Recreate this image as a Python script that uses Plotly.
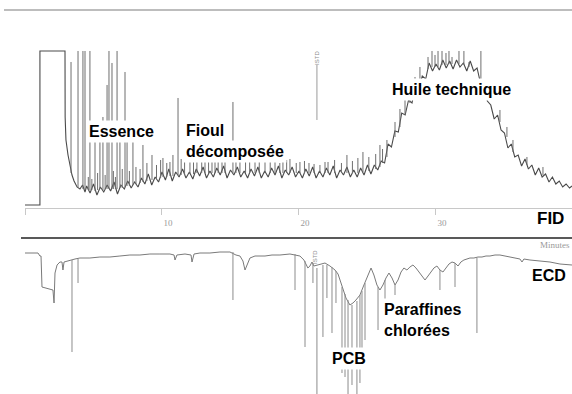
import plotly.graph_objects as go

# ---------------- DATA ----------------
# FID continuous trace: time (min) and signal (arbitrary units, off-scale = 156)
fid_time = [0, 0.95, 1.09, 1.09, 2.92, 2.93, 2.99, 3.14, 3.28, 3.43, 3.58, 3.80, 4.01, 4.20, 4.38,
            4.50, 4.75, 5.00, 5.25, 5.50, 5.75, 6.00, 6.25, 6.50, 6.75, 7.00, 7.25, 7.50, 7.75,
            8.00, 8.25, 8.50, 8.75, 9.00, 9.25, 9.50, 9.75, 10.00, 10.25, 10.50, 10.75, 11.00,
            11.25, 11.50, 11.75, 12.00, 12.25, 12.50, 12.75, 13.00, 13.25, 13.50, 13.75, 14.00,
            14.25, 14.50, 14.75, 15.00, 15.25, 15.50, 15.75, 16.00, 16.25, 16.50, 16.75, 17.00,
            17.25, 17.50, 17.75, 18.00, 18.25, 18.50, 18.75, 19.00, 19.25, 19.50, 19.75, 20.00,
            20.25, 20.50, 20.75, 21.00, 21.25, 21.50, 21.75, 22.00, 22.25, 22.50, 22.75, 23.00,
            23.25, 23.50, 23.75, 24.00, 24.25, 24.50, 24.75, 25.00, 25.25,
            25.50, 25.75, 26.00, 26.25, 26.50, 26.75, 27.00, 27.25, 27.50, 27.75, 28.00, 28.25,
            28.50, 28.75, 29.00, 29.25, 29.50, 29.75, 30.00, 30.25, 30.50, 30.75, 31.00, 31.25,
            31.50, 31.75, 32.00, 32.25, 32.50, 32.75, 33.00, 33.25, 33.50, 33.75, 34.00, 34.25,
            34.50, 34.75, 35.00, 35.25, 35.50, 35.75, 36.00, 36.25, 36.50, 36.75, 37.00, 37.25,
            37.50, 37.75, 38.00, 38.25, 38.50, 38.75, 39.00, 39.25, 39.50, 39.75, 39.93]
fid_signal = [2, 2, 2, 156, 156, 90, 67, 52, 41, 32, 26, 20, 18, 22, 15,
              21, 14, 23, 12, 20, 15, 22, 16, 25, 13, 22, 18, 26, 19,
              25, 20, 29, 23, 33, 22, 30, 25, 35, 27, 38, 26, 35,
              30, 38, 29, 35, 28, 38, 31, 40, 29, 36, 30, 39,
              32, 41, 29, 37, 32, 40, 30, 36, 29, 38, 31, 40,
              29, 36, 30, 39, 32, 41, 29, 37, 32, 40, 30, 36,
              29, 38, 31, 40, 29, 36, 30, 39, 32, 41, 29, 37,
              32, 40, 30, 37, 30, 39, 32, 42, 33,
              42, 37, 46, 44, 63, 60, 76, 75, 94, 92, 107, 104,
              121, 118, 131, 128, 144, 136, 143, 137, 147, 139, 146, 138,
              147, 140, 144, 136, 146, 136, 139, 124, 125, 106, 102, 88,
              92, 77, 74, 59, 63, 50, 52, 41, 48, 38, 42, 32,
              39, 30, 33, 25, 30, 23, 26, 20, 23, 19, 21]

# FID individual peaks: time, local baseline, apex
fid_peak_time = [3.36, 3.87, 4.23, 4.38, 4.74, 5.11, 5.47, 5.69, 5.99, 6.13, 6.35, 6.72, 6.93,
                 7.30, 7.45, 7.88, 8.61, 9.27, 10.07, 10.58, 10.80, 11.17, 12.04, 12.55, 13.14,
                 13.87, 14.38, 15.18, 15.69, 16.79, 17.52, 18.25, 18.83, 19.34, 20.07, 20.73,
                 21.53, 22.12, 23.50, 24.67, 25.91, 26.42, 27.01, 27.37, 27.74, 28.10, 28.47,
                 28.83, 29.42, 29.71, 29.93, 30.15, 30.44, 30.73, 30.95, 31.17, 31.68, 32.04,
                 32.41, 33.28, 33.72, 34.67, 35.18, 35.62, 36.64, 37.81,
                 4.62, 4.88, 5.30, 5.85, 6.45, 6.60, 7.10, 7.62, 8.10, 8.40, 8.90, 9.60, 9.90,
                 10.35, 11.40, 11.65, 12.30, 12.90, 13.40, 13.65, 14.10, 14.60, 15.40, 16.10,
                 16.40, 17.10, 17.90, 18.60, 19.10, 19.80, 20.40, 21.10, 21.90, 22.60, 23.10,
                 23.90, 24.30, 25.10, 25.60, 26.10]
fid_peak_base = [34, 20, 18, 17, 17, 16, 18, 17, 18, 18, 18, 18, 19,
                 20, 21, 22, 25, 27, 30, 31, 31, 32, 33, 34, 34,
                 34, 34, 34, 34, 34, 34, 34, 34, 34, 34, 34,
                 34, 34, 34, 35, 40, 50, 70, 80, 92, 104, 115,
                 125, 138, 140, 140, 140, 142, 142, 143, 143, 143, 142,
                 140, 125, 107, 85, 70, 55, 42, 32,
                 17, 17, 17, 18, 18, 18, 19, 21, 23, 24, 26, 28, 29,
                 30, 32, 32, 33, 34, 34, 34, 34, 34, 34, 34,
                 34, 34, 34, 34, 34, 34, 34, 34, 34, 34, 34,
                 34, 34, 36, 38, 44]
fid_peak_top = [145, 156, 156, 156, 156, 80, 70, 90, 122, 156, 144, 156, 65,
                135, 72, 65, 62, 52, 49, 45, 52, 109, 55, 50, 52,
                48, 55, 105, 50, 48, 50, 45, 45, 48, 45, 44,
                42, 45, 52, 55, 62, 67, 85, 98, 110, 120, 130,
                140, 150, 156, 152, 156, 156, 154, 156, 150, 156, 156,
                145, 156, 110, 97, 80, 67, 50, 40,
                30, 28, 34, 32, 36, 30, 38, 36, 40, 38, 44, 42, 47,
                44, 48, 46, 47, 49, 46, 51, 47, 50, 46, 49,
                45, 47, 46, 44, 47, 44, 46, 43, 45, 47, 44,
                46, 49, 50, 53, 58]

# FID internal standard marker
fid_istd_time = [21.31]
fid_istd_low = [87]
fid_istd_high = [142]

# ECD continuous trace (negative = downward response)
ecd_time = [0, 0.95, 1.09, 1.17, 1.24, 2.04, 2.12, 2.19, 2.34, 2.55, 2.70, 2.77, 2.85, 3.07, 3.28,
            3.65, 4.01, 4.74, 5.47, 6.20, 6.93, 7.66, 8.39, 9.12, 9.85, 10.58, 10.88, 10.95,
            11.09, 11.68, 12.12, 12.19, 12.34, 12.77, 13.50, 14.23, 14.96, 15.40, 15.69, 15.91,
            16.06, 16.20, 16.42, 16.79, 17.15, 17.52, 18.03, 18.61, 19.34, 20.07, 20.36, 20.65,
            20.80, 20.95, 21.09, 21.53, 21.90, 22.26, 22.63, 22.85, 22.99, 23.21, 23.43, 23.72,
            23.94, 24.16, 24.45, 24.74, 25.04, 25.26, 25.47, 25.69, 25.91, 26.13, 26.35, 26.57,
            26.79, 27.01, 27.23, 27.45, 27.66, 27.88, 28.10, 28.32, 28.54, 28.76, 28.98, 29.20,
            29.42, 29.64, 29.85, 30.07, 30.29, 30.51, 30.73, 30.95, 31.17, 31.39, 31.61, 31.82,
            32.04, 32.26, 32.48, 32.77, 33.07, 33.36, 33.65, 33.94, 34.31, 34.67, 35.04, 35.40,
            35.77, 36.13, 36.28, 36.42, 36.86, 37.59, 38.32, 39.05, 39.93]
ecd_signal = [0, 0, -3, -3, -34, -37, -50, -20, -12, -9, -9, -17, -9, -8, -7,
              -6, -5, -5, -4, -4, -3, -2, -2, -1, -1, -1, -2, -7,
              -2, -1, -2, -9, -1, 0, 0, 1, 1, -2, -3, -8,
              -17, -12, -5, -3, -3, -3, -2, -2, -1, -3, -7, -15,
              -13, -9, -13, -11, -10, -13, -17, -21, -27, -37, -45, -52,
              -50, -47, -42, -32, -22, -15, -22, -32, -37, -32, -25, -20,
              -25, -32, -27, -19, -15, -17, -14, -12, -15, -19, -23, -27,
              -23, -19, -15, -13, -17, -19, -15, -11, -9, -10, -13, -9,
              -7, -6, -5, -5, -4, -4, -3, -3, -2, -2, -3, -4,
              -5, -6, -9, -6, -7, -8, -9, -11, -12]

# ECD individual peaks: time, local baseline, minimum
ecd_peak_time = [3.43, 3.87, 15.18, 19.71, 20.44, 21.02, 21.31, 21.75, 22.04, 22.41, 22.70,
                 23.14, 23.36, 23.58, 23.87, 24.23, 24.45, 24.60, 24.82, 25.77, 26.28, 27.01,
                 30.29, 31.39, 32.99]
ecd_peak_base = [-7, -6, 1, -1, -8, -10, -15, -12, -12, -14, -18,
                 -34, -41, -47, -52, -48, -42, -38, -30, -34, -27, -32,
                 -17, -10, -5]
ecd_peak_min = [-99, -30, -47, -37, -94, -30, -141, -84, -45, -80, -50,
                -120, -124, -141, -132, -141, -130, -114, -87, -77, -74, -42,
                -37, -34, -80]

x_tick_values = [0, 10, 20, 30]
x_tick_labels = ["", "10", "20", "30"]


def sticks(times, a, b):
    xs, ys = [], []
    for t, y0, y1 in zip(times, a, b):
        xs += [t, t, None]
        ys += [y0, y1, None]
    return xs, ys


fig = go.Figure()

# FID
fig.add_trace(go.Scatter(x=fid_time, y=fid_signal, mode="lines",
                         line=dict(color="#4a4a4a", width=1.1), xaxis="x", yaxis="y",
                         hoverinfo="skip"))
sx, sy = sticks(fid_peak_time, fid_peak_base, fid_peak_top)
fig.add_trace(go.Scatter(x=sx, y=sy, mode="lines", line=dict(color="#6e6e6e", width=1),
                         xaxis="x", yaxis="y", hoverinfo="skip"))
ix, iy = sticks(fid_istd_time, fid_istd_low, fid_istd_high)
fig.add_trace(go.Scatter(x=ix, y=iy, mode="lines", line=dict(color="#9a9a9a", width=1),
                         xaxis="x", yaxis="y", hoverinfo="skip"))

# ECD
fig.add_trace(go.Scatter(x=ecd_time, y=ecd_signal, mode="lines",
                         line=dict(color="#7a7a7a", width=1), xaxis="x2", yaxis="y2",
                         hoverinfo="skip"))
ex, ey = sticks(ecd_peak_time, ecd_peak_base, ecd_peak_min)
fig.add_trace(go.Scatter(x=ex, y=ey, mode="lines", line=dict(color="#8c8c8c", width=1),
                         xaxis="x2", yaxis="y2", hoverinfo="skip"))

LBL = "Liberation Sans Narrow, Arial Narrow, Liberation Sans, Arial, sans-serif"


def label(text, x, y, xanchor="left", bg="white", size=16):
    return dict(text="<b>" + text + "</b>", x=x, y=y, xref="paper", yref="paper",
                xanchor=xanchor, yanchor="middle", showarrow=False,
                font=dict(family=LBL, size=size, color="black"),
                bgcolor=bg, borderpad=2)


annotations = [
    label("Essence", 0.1503, 0.6675),
    label("Fioul", 0.3199, 0.6688),
    label("décomposée", 0.3199, 0.6155),
    label("Huile technique", 0.6801, 0.7728),
    label("FID", 0.9913, 0.4442, xanchor="right", bg="rgba(0,0,0,0)", size=17),
    label("ECD", 0.9948, 0.2995, xanchor="right", bg="rgba(0,0,0,0)", size=16),
    label("PCB", 0.5752, 0.0901),
    label("Paraffines", 0.6661, 0.2132),
    label("chlorées", 0.6661, 0.1612),
    dict(text="Minutes", x=1.0, y=0.3782, xref="paper", yref="paper", xanchor="right",
         yanchor="middle", showarrow=False,
         font=dict(family="Liberation Serif, serif", size=9, color="#999999")),
    dict(text="ISTD", x=fid_istd_time[0], y=149, xref="x", yref="y", textangle=-90,
         showarrow=False, font=dict(family="Liberation Sans, sans-serif", size=6, color="#8a8a8a")),
    dict(text="ISTD", x=21.17, y=-4, xref="x2", yref="y2", textangle=-90,
         showarrow=False, font=dict(family="Liberation Sans, sans-serif", size=6, color="#8a8a8a")),
]

shapes = [
    dict(type="line", xref="paper", yref="paper", x0=0.007, x1=1, y0=0.9746, y1=0.9746,
         line=dict(color="#bdbdbd", width=2)),
    dict(type="line", xref="paper", yref="paper", x0=0.0367, x1=1, y0=0.3959, y1=0.3959,
         line=dict(color="#222222", width=1.5)),
]

xdom = [25 / 572, 1]
fig.update_layout(
    width=572, height=394, margin=dict(l=0, r=0, t=0, b=0),
    paper_bgcolor="white", plot_bgcolor="rgba(0,0,0,0)", showlegend=False,
    xaxis=dict(domain=xdom, range=[0, 39.93], anchor="y", showline=True, linecolor="#c8c8c8",
               linewidth=1, ticks="outside", ticklen=6, tickcolor="#c8c8c8", tickwidth=1,
               tickvals=x_tick_values, ticktext=x_tick_labels, showgrid=False, zeroline=False,
               tickfont=dict(family="Liberation Serif, serif", size=9, color="#999999"),
               ticklabelshift=6, ticklabelstandoff=0, fixedrange=True),
    yaxis=dict(domain=[0.47208, 0.87310], range=[-1, 157], visible=False, fixedrange=True),
    xaxis2=dict(domain=xdom, range=[0, 39.93], anchor="y2", visible=False, fixedrange=True),
    yaxis2=dict(domain=[0, 0.39086], range=[-141, 13], visible=False, fixedrange=True),
    annotations=annotations, shapes=shapes,
)

fig.write_html("out.html", config={"displayModeBar": False},
               post_script="document.body.style.margin='0';")
